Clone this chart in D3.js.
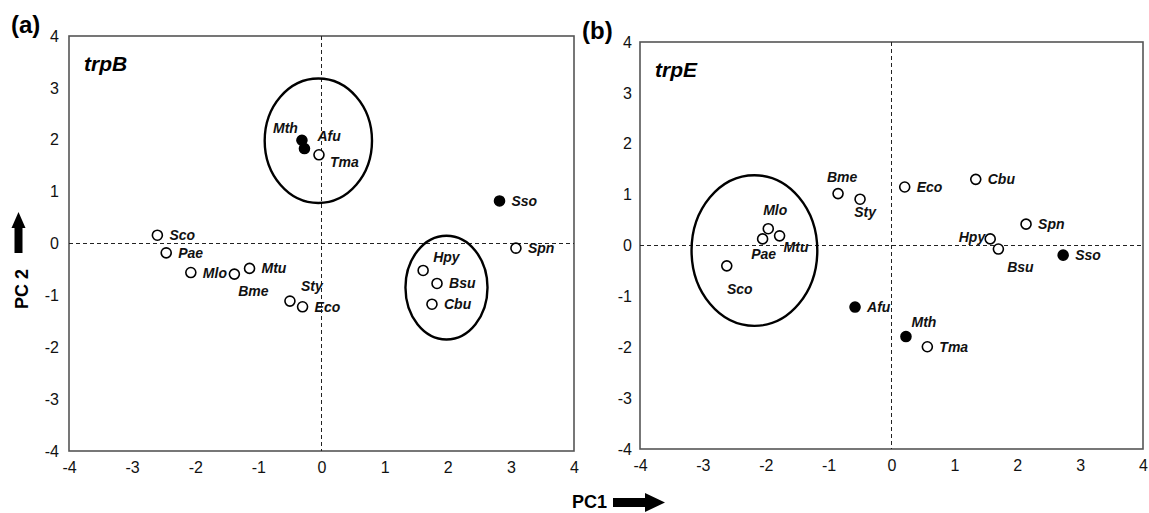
<!DOCTYPE html>
<html>
<head>
<meta charset="utf-8">
<script src="https://cdn.jsdelivr.net/npm/d3@7"></script>
<style>
  body { margin: 0; background: #fff; }
  svg { font-family: "Liberation Sans", Arial, sans-serif; }
</style>
</head>
<body>
<svg id="chart" width="1149" height="513"></svg>
<script>
// ---- data ----
const ticks = [-4, -3, -2, -1, 0, 1, 2, 3, 4];
const archaea = ["Mth", "Afu", "Sso"];

// (a) trpB
const taxaB = ["Sco", "Pae", "Mlo", "Bme", "Mtu", "Sty", "Eco", "Hpy", "Bsu", "Cbu", "Spn", "Sso", "Mth", "Afu", "Tma"];
const pc1B  = [-2.60, -2.46, -2.07, -1.38, -1.14, -0.50, -0.30, 1.61, 1.83, 1.75, 3.08, 2.82, -0.31, -0.27, -0.04];
const pc2B  = [0.16, -0.18, -0.56, -0.59, -0.48, -1.11, -1.22, -0.52, -0.77, -1.17, -0.09, 0.82, 1.99, 1.83, 1.71];
// ellipses: centre x, centre y, radius x, radius y (PC units)
const ringsB = [[-0.05, 1.98, 0.85, 1.20], [1.98, -0.85, 0.65, 1.00]];

// (b) trpE
const taxaE = ["Bme", "Sty", "Mlo", "Pae", "Mtu", "Sco", "Afu", "Eco", "Cbu", "Spn", "Hpy", "Bsu", "Sso", "Mth", "Tma"];
const pc1E  = [-0.85, -0.50, -1.96, -2.05, -1.78, -2.62, -0.58, 0.21, 1.34, 2.14, 1.57, 1.70, 2.73, 0.23, 0.57];
const pc2E  = [1.02, 0.91, 0.33, 0.13, 0.19, -0.40, -1.21, 1.15, 1.30, 0.42, 0.13, -0.07, -0.19, -1.79, -1.99];
const ringsE = [[-2.18, -0.10, 1.00, 1.48]];

// label placement (pixel offsets from the marker)
const R = [12, 5, "start"];
const placeB = {
  Bme: [19, 22, "middle"], Sty: [22, -10, "middle"], Hpy: [10, -8, "start"],
  Mth: [-4, -7, "end"], Afu: [13, -8, "start"], Tma: [11, 12, "start"]
};
const placeE = {
  Bme: [4, -12, "middle"], Sty: [5, 18, "middle"], Mlo: [7, -14, "middle"],
  Pae: [1, 20, "middle"], Mtu: [4, 16, "start"], Sco: [13, 28, "middle"],
  Hpy: [-5, 3, "end"], Bsu: [22, 23, "middle"], Mth: [18, -10, "middle"]
};

const svg = d3.select("#chart");

function panel(o) {
  const x = d3.scaleLinear().domain([-4, 4]).range([o.left, o.right]);
  const y = d3.scaleLinear().domain([-4, 4]).range([o.bottom, o.top]);
  const g = svg.append("g");

  // frame
  g.append("rect")
    .attr("x", o.left).attr("y", o.top)
    .attr("width", o.right - o.left).attr("height", o.bottom - o.top)
    .attr("fill", "none").attr("stroke", "#555").attr("stroke-width", 1.6);

  // zero lines
  g.append("line")
    .attr("x1", x(0)).attr("x2", x(0)).attr("y1", o.top).attr("y2", o.bottom)
    .attr("stroke", "#222").attr("stroke-width", 1).attr("stroke-dasharray", "4,3");
  g.append("line")
    .attr("x1", o.left).attr("x2", o.right).attr("y1", y(0)).attr("y2", y(0))
    .attr("stroke", "#222").attr("stroke-width", 1).attr("stroke-dasharray", "4,3");

  // axes (plain hyphen minus, as in the original)
  const fmt = d => String(d);
  const ax = g.append("g")
    .attr("transform", `translate(0,${o.bottom})`)
    .call(d3.axisBottom(x).tickValues(ticks).tickSize(0).tickPadding(11).tickFormat(fmt));
  const ay = g.append("g")
    .attr("transform", `translate(${o.left},0)`)
    .call(d3.axisLeft(y).tickValues(ticks).tickSize(0).tickPadding(o.ypad).tickFormat(fmt));
  [ax, ay].forEach(a => {
    a.select(".domain").remove();
    a.selectAll("text").attr("font-size", 16).attr("fill", "#111")
      .attr("font-family", "'Liberation Sans', Arial, sans-serif");
  });

  // group ellipses
  g.selectAll("ellipse").data(o.rings).enter().append("ellipse")
    .attr("cx", d => x(d[0])).attr("cy", d => y(d[1]))
    .attr("rx", d => x(d[2]) - x(0)).attr("ry", d => y(0) - y(d[3]))
    .attr("fill", "none").attr("stroke", "#000").attr("stroke-width", 2.4);

  const pts = o.taxa.map((t, i) => ({ name: t, pc1: o.pc1[i], pc2: o.pc2[i] }));

  g.selectAll("circle").data(pts).enter().append("circle")
    .attr("cx", d => x(d.pc1)).attr("cy", d => y(d.pc2)).attr("r", 5)
    .attr("fill", d => archaea.includes(d.name) ? "#000" : "#fff")
    .attr("stroke", "#000").attr("stroke-width", 1.6);

  g.selectAll("text.lab").data(pts).enter().append("text")
    .attr("class", "lab")
    .attr("x", d => x(d.pc1) + (o.place[d.name] || R)[0])
    .attr("y", d => y(d.pc2) + (o.place[d.name] || R)[1])
    .attr("text-anchor", d => (o.place[d.name] || R)[2])
    .attr("font-size", 14).attr("font-weight", "bold").attr("font-style", "italic")
    .attr("fill", "#111")
    .text(d => d.name);

  // gene name
  g.append("text")
    .attr("x", o.left + 15).attr("y", o.top + 35)
    .attr("font-size", 21).attr("font-weight", "bold").attr("font-style", "italic")
    .text(o.gene);

  // panel letter
  g.append("text")
    .attr("x", o.left - 58).attr("y", o.top - 3)
    .attr("font-size", 24).attr("font-weight", "bold")
    .text(o.letter);
}

panel({ left: 69, right: 574, top: 36, bottom: 451, ypad: 10, rings: ringsB,
        taxa: taxaB, pc1: pc1B, pc2: pc2B, place: placeB, gene: "trpB", letter: "(a)" });
panel({ left: 640, right: 1143, top: 42, bottom: 449, ypad: 8, rings: ringsE,
        taxa: taxaE, pc1: pc1E, pc2: pc2E, place: placeE, gene: "trpE", letter: "(b)" });

// axis titles with arrows
svg.append("text")
  .attr("transform", "translate(28,289) rotate(-90)")
  .attr("text-anchor", "middle")
  .attr("font-size", 18).attr("font-weight", "bold")
  .text("PC 2");
svg.append("path")
  .attr("d", "M14.5,253 L14.5,228 L11.5,228 L18.5,212 L25.5,228 L22.5,228 L22.5,253 Z")
  .attr("fill", "#000");

svg.append("text")
  .attr("x", 572).attr("y", 508)
  .attr("font-size", 18).attr("font-weight", "bold")
  .text("PC1");
svg.append("path")
  .attr("d", "M613,498 L645,498 L645,493 L665,502.5 L645,512 L645,507 L613,507 Z")
  .attr("fill", "#000");
</script>
</body>
</html>
